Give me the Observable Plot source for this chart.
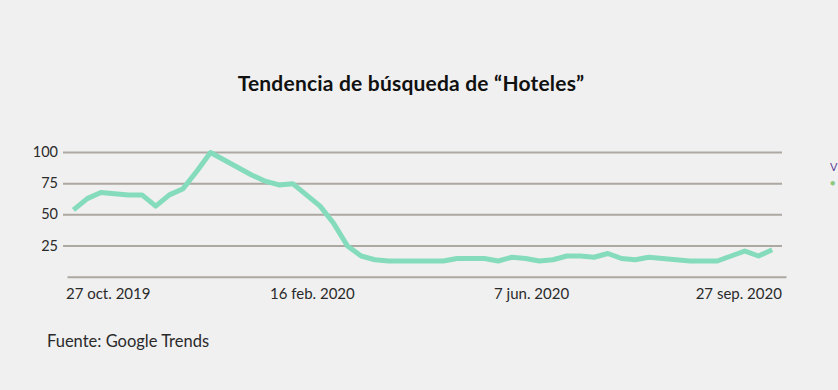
<!DOCTYPE html>
<html>
<head>
<meta charset="utf-8">
<script src="https://cdn.jsdelivr.net/npm/d3@7"></script>
<script src="https://cdn.jsdelivr.net/npm/@observablehq/plot@0.6"></script>
<style>
  html, body { margin: 0; padding: 0; }
  body { width: 838px; height: 390px; background: #f0f0f0; position: relative; overflow: hidden; font-family: Lato, "Noto Sans", sans-serif; color: #1a1a1a; }
  #title { position: absolute; left: 0; width: 822px; top: 70px; text-align: center; font-size: 21px; font-weight: 700; color: #111; letter-spacing: 0.2px; }
  #chart { position: absolute; left: 0; top: 0; }
  #caption { position: absolute; left: 47px; top: 331px; font-size: 16.5px; font-weight: 400; color: #2a2a2a; }
  #legendcut { position: absolute; left: 830px; top: 159px; font-size: 11px; line-height: 15px; }
</style>
</head>
<body>
<div id="chart"></div>
<div id="title">Tendencia de búsqueda de “Hoteles”</div>
<div id="caption">Fuente: Google Trends</div>
<div id="legendcut"><span style="color:#5b3f99">V</span><br><span style="color:#8cc97e;font-size:9px">●</span></div>
<script>
// Weekly Google Trends interest for "Hoteles" (0–100)
const startWeek = "2019-10-20";
const values = [
  54, 63, 68, 67, 66, 66, 57, 66, 71, 85,
  100, 94, 88, 82, 77, 74, 75, 66, 57, 43,
  25, 17, 14, 13, 13, 13, 13, 13, 15, 15,
  15, 13, 16, 15, 13, 14, 17, 17, 16, 19,
  15, 14, 16, 15, 14, 13, 13, 13, 17, 21,
  17, 22
];
const tickDates = ["2019-10-27", "2020-02-16", "2020-06-07", "2020-09-27"];
const tickLabels = ["27 oct. 2019", "16 feb. 2020", "7 jun. 2020", "27 sep. 2020"];
const yTicks = [25, 50, 75, 100];

const start = new Date(startWeek + "T00:00:00Z");
const data = values.map((v, i) => ({date: d3.utcWeek.offset(start, i), value: v}));
const ticks = tickDates.map(s => new Date(s + "T00:00:00Z"));
const labelOf = d => tickLabels[ticks.findIndex(t => +t === +d)];

const grid = "#ada9a2";
const chart = Plot.plot({
  width: 838,
  height: 390,
  marginLeft: 63,
  marginRight: 56,
  marginTop: 152,
  marginBottom: 113.3,
  style: {background: "transparent", fontFamily: "Lato, 'Noto Sans', sans-serif", color: "#2a2a2a"},
  x: {type: "utc", domain: [data[0].date, data[data.length - 1].date], range: [73, 771.7]},
  y: {domain: [0, 100]},
  marks: [
    Plot.gridY(yTicks, {stroke: grid, strokeOpacity: 1, strokeWidth: 2}),
    Plot.ruleY([0], {stroke: grid, strokeWidth: 2, dx: 4.5}),
    Plot.axisY(yTicks, {tickSize: 0, tickPadding: 5.5, fontSize: 14.5, label: null}),
    Plot.axisX(ticks.slice(0, 1), {tickSize: 0, tickPadding: 11, fontSize: 15, dx: 21, tickFormat: labelOf, label: null}),
    Plot.axisX(ticks.slice(1, 3), {tickSize: 0, tickPadding: 11, fontSize: 15, dx: 6, tickFormat: labelOf, label: null}),
    Plot.axisX(ticks.slice(3), {tickSize: 0, tickPadding: 11, fontSize: 15, dx: -6, tickFormat: labelOf, label: null}),
    Plot.lineY(data, {x: "date", y: "value", stroke: "#84dcbc", strokeWidth: 5, strokeLinejoin: "round", strokeLinecap: "butt"})
  ]
});
document.getElementById("chart").appendChild(chart);
</script>
</body>
</html>
